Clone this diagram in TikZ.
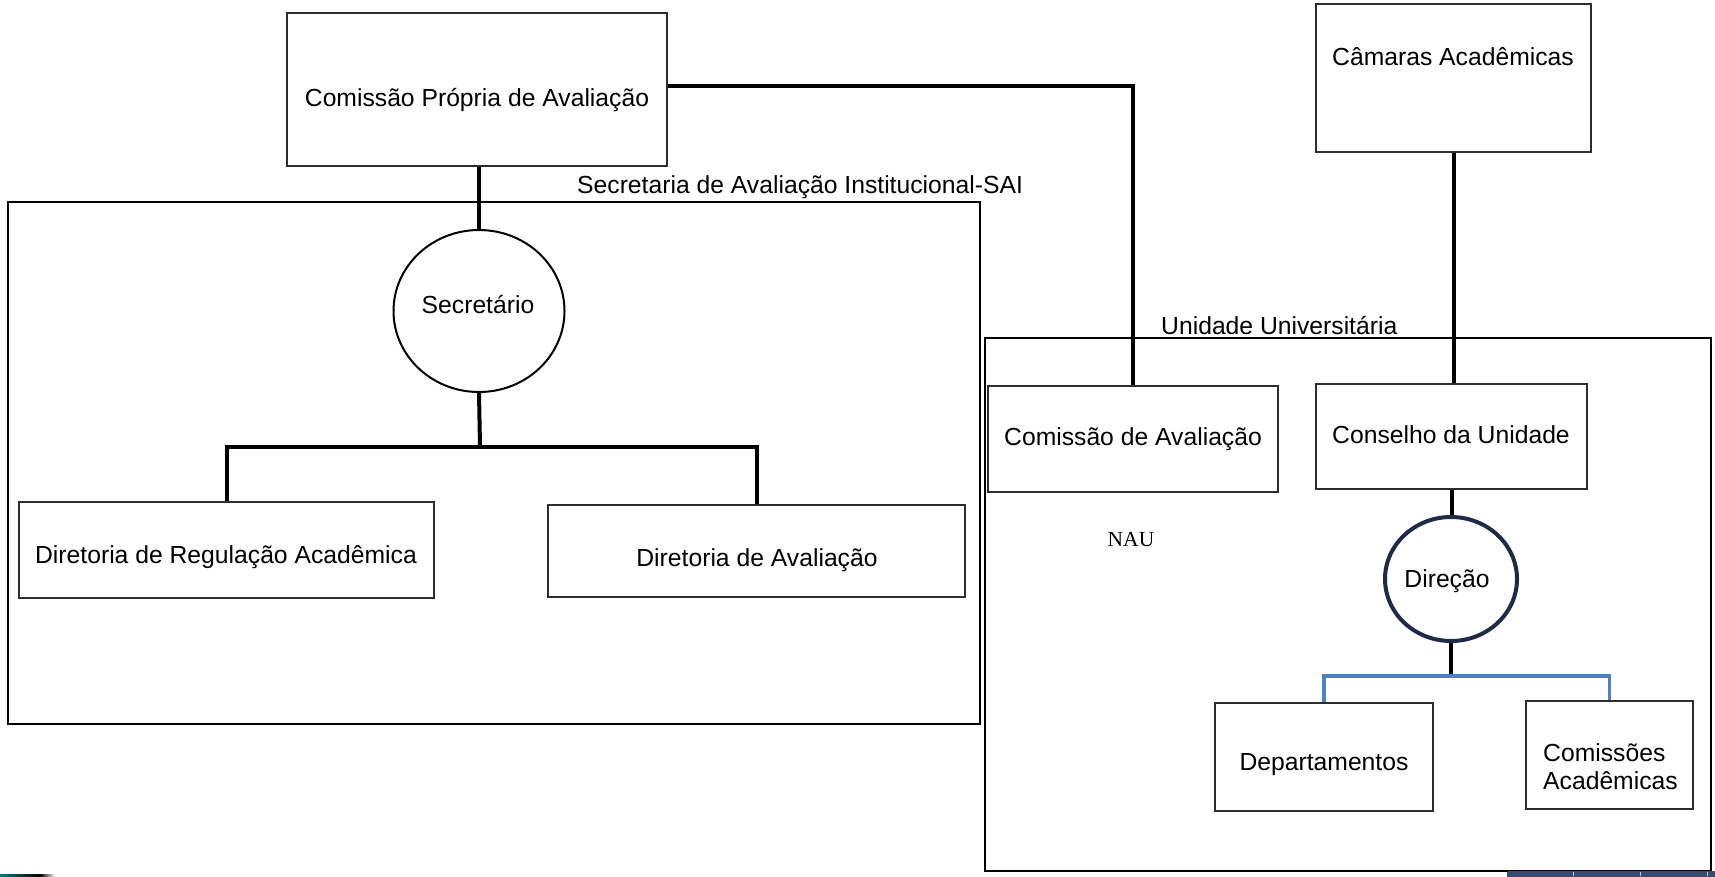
\documentclass[tikz,border=0pt]{standalone}
\usepackage{fontspec}
\setmainfont{Liberation Sans}
\newfontfamily\nauserif{Liberation Serif}
\usetikzlibrary{shapes.geometric}
\definecolor{boxline}{RGB}{45,45,45}
\definecolor{navyline}{RGB}{30,42,70}
\definecolor{officeblue}{RGB}{79,129,189}
\definecolor{taskbar}{RGB}{58,74,112}
\tikzset{
  box/.style={draw=boxline, line width=2pt, rectangle, inner sep=0pt, fill=white},
  frame/.style={draw=black, line width=2.2pt, rectangle, inner sep=0pt},
  conn/.style={draw=black, line width=4pt},
  bconn/.style={draw=officeblue, line width=3.5pt},
  txt/.style={inner sep=0pt, anchor=base, font=\fontsize{24.7pt}{29pt}\selectfont},
}
\begin{document}
\begin{tikzpicture}[x=1pt, y=-1pt]
\useasboundingbox (0,0) rectangle (1715,876);
\fill[white] (0,0) rectangle (1715,876);

% outer frames
\node[frame, minimum width=972pt, minimum height=522pt] (sai) at (494,463) {};
\node[frame, minimum width=726pt, minimum height=533pt] (uni) at (1348,604.5) {};
\node[txt, anchor=base west] (sailbl) at (577,193) {Secretaria de Avaliação Institucional-SAI};
\node[txt, anchor=base west] (unilbl) at (1161,334) {Unidade Universitária};

% coordinates for junctions
\coordinate (j1) at (480,447);
\coordinate (j2) at (1451,676);

% boxes
\node[box, minimum width=380pt, minimum height=153pt] (cpa) at (477,89.5) {};
\node[box, minimum width=290pt, minimum height=106pt] (ca) at (1133,439) {};
\node[box, minimum width=275pt, minimum height=148pt] (cam) at (1453.5,78) {};
\node[box, minimum width=271pt, minimum height=105pt] (con) at (1451.5,436.5) {};
\node[box, minimum width=415pt, minimum height=96pt] (dra) at (226.5,550) {};
\node[box, minimum width=417pt, minimum height=92pt] (da) at (756.5,551) {};
\node[box, minimum width=218pt, minimum height=108pt] (dep) at (1324,757) {};
\node[box, minimum width=167pt, minimum height=108pt] (cac) at (1609.5,755) {};

\node[draw=black, line width=2pt, ellipse, minimum width=171pt, minimum height=162pt, inner sep=0pt, fill=white] (sec) at (479,311) {};
\node[draw=navyline, line width=4pt, ellipse, minimum width=132pt, minimum height=124pt, inner sep=0pt, fill=white] (dir) at (1451,579) {};

% connectors
\draw[conn] (sec.north |- cpa.south) -- (sec.north);
\draw[conn] (sec.south) -- (j1);
\draw[conn] (dra.north) |- (j1) -| (da.north);
\draw[conn] ([yshift=3.5pt]cpa.east) -| (ca.north);
\draw[conn] (con.north -| cam.south) -- (cam.south);
\draw[conn] (dir.north -| con.south) -- (con.south);
\draw[conn] (dir.south) -- (j2);
\draw[bconn] (dep.north) |- (j2) -| (cac.north);

% texts
\node[txt] (cpat) at (477,106) {Comissão Própria de Avaliação};
\node[txt] (sect) at (478,313) {Secretário};
\node[txt] (drat) at (226,563) {Diretoria de Regulação Acadêmica};
\node[txt] (dat) at (757,566) {Diretoria de Avaliação};
\node[txt] (cat) at (1133,445) {Comissão de Avaliação};
\node[txt] (cont) at (1451,443) {Conselho da Unidade};
\node[txt] (camt) at (1453,65) {Câmaras Acadêmicas};
\node[txt] (dirt) at (1447,587) {Direção};
\node[txt] (dept) at (1324,770) {Departamentos};
\node[txt, anchor=base west] (cact1) at (1543,761) {Comissões};
\node[txt, anchor=base west] (cact2) at (1543,789) {Acadêmicas};
\node[inner sep=0pt, anchor=base, font=\nauserif\fontsize{21.5pt}{25pt}\selectfont] (nau) at (1131,546) {NAU};

% bottom screen strips
\fill[taskbar, rounded corners=2pt] (1507,871) rectangle (1720,880);
\draw[white!70!taskbar, line width=1pt] (1573,872) -- (1573,876) (1640,872) -- (1640,876) (1707,872) -- (1707,876);
\shade[left color=teal, right color=black] (0,874) rectangle (40,876);
\shade[left color=black, right color=white] (40,874) rectangle (55,876);
\end{tikzpicture}
\end{document}
